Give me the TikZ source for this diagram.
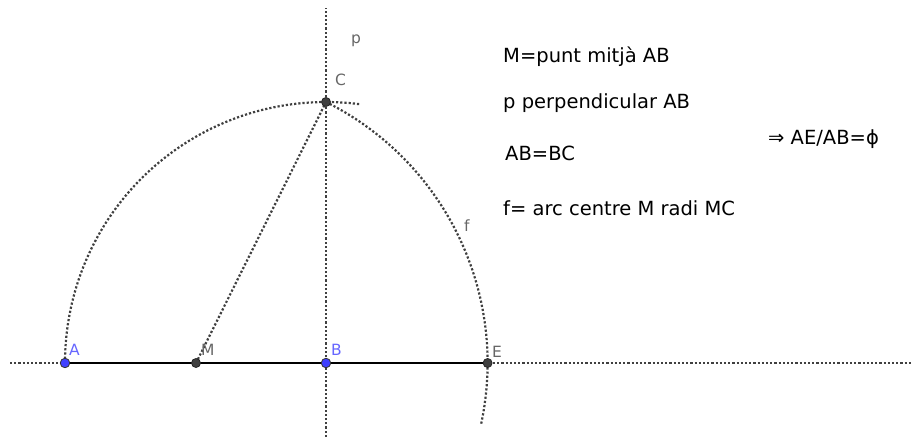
\documentclass[tikz,border=0pt]{standalone}
\usepackage{fontspec}
\setmainfont{DejaVu Sans}
\begin{document}
\begin{tikzpicture}[x=1pt,y=1pt,
  dotline/.style={draw=black!75, line width=2.2pt, dash pattern=on 2.2pt off 2pt},
  seg/.style={draw=black, line width=2.6pt},
  ptblue/.style={circle, fill=blue!75!white, draw=black!80, line width=0.8pt, inner sep=0pt, minimum size=9.5pt},
  ptdark/.style={circle, fill=black!75, draw=black!85, line width=0.8pt, inner sep=0pt, minimum size=9pt},
  lbl/.style={anchor=base west, inner sep=0pt, font=\fontsize{15.5}{18}\selectfont, text=black!60},
  lblblue/.style={lbl, text=blue!60!white},
  txt/.style={anchor=base west, inner sep=0pt, font=\fontsize{19.5}{23}\selectfont, text=black}]
\useasboundingbox (0,0) rectangle (913,437);
% coordinates
\coordinate (A) at (65,74);
\coordinate (M) at (196,74);
\coordinate (B) at (326,74);
\coordinate (E) at (487.6,74);
\coordinate (C) at (326,335);
\coordinate (hl) at (10,74);
\coordinate (hr) at (913,74);
\coordinate (vt) at (326,429);
\coordinate (vb) at (326,0);
% lines
\draw[dotline] (hl) -- (hr);
\draw[dotline] (vb) -- (vt);
\draw[seg] (A) -- (E);
\draw[dotline] (M) -- (C);
\draw[dotline] (A) arc[start angle=180, end angle=82.5, radius=261];
\draw[dotline] (C) arc[start angle=63.52, end angle=-12.3, radius=291.6];
% points
\node[ptblue] (nA) at (A) {};
\node[ptdark] (nM) at (M) {};
\node[ptblue] (nB) at (B) {};
\node[ptdark] (nE) at (E) {};
\node[ptdark] (nC) at (C) {};
% labels
\node[lblblue] (lA) at (69,82) {A};
\node[lbl] (lM) at (201,82) {M};
\node[lblblue] (lB) at (331,82) {B};
\node[lbl] (lE) at (492,80) {E};
\node[lbl] (lC) at (335,351) {C};
\node[lbl] (lp) at (351,393) {p};
\node[lbl] (lf) at (464,205) {f};
% texts
\node[txt] (t1) at (503,374) {M=punt mitjà AB};
\node[txt] (t2) at (503,328) {p perpendicular AB};
\node[txt] (t3) at (505,276) {AB=BC};
\node[txt] (t4) at (503,222) {f= arc centre M radi MC};
\node[txt] (t5) at (768,292) {⇒ AE/AB=ϕ};
\end{tikzpicture}
\end{document}
